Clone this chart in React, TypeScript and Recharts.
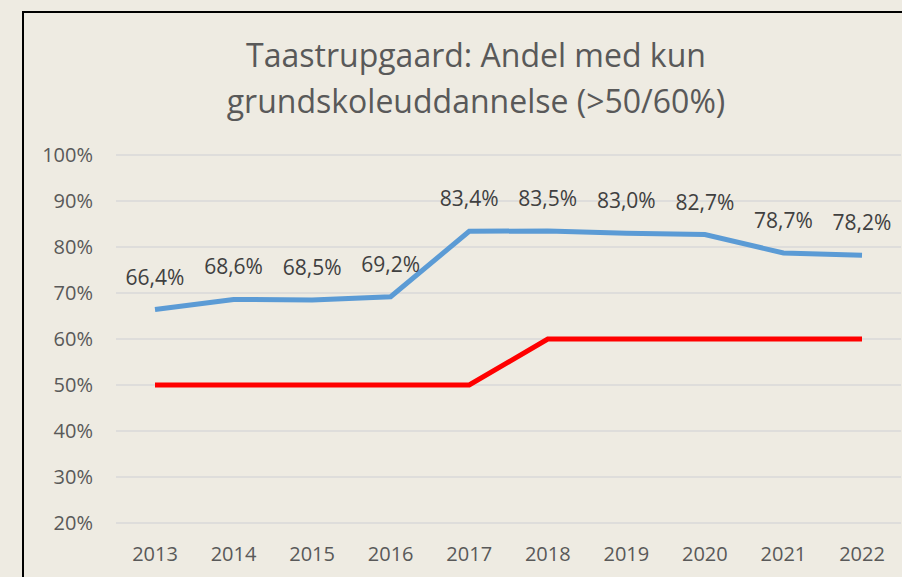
import React from 'react';
import { LineChart, Line, XAxis, YAxis, CartesianGrid, LabelList } from 'recharts';

const years = ['2013', '2014', '2015', '2016', '2017', '2018', '2019', '2020', '2021', '2022'];
const andel = [66.4, 68.6, 68.5, 69.2, 83.4, 83.5, 83.0, 82.7, 78.7, 78.2];
const graense = [50, 50, 50, 50, 50, 60, 60, 60, 60, 60];
const yTicks = [20, 30, 40, 50, 60, 70, 80, 90, 100];

const data = years.map((year, i) => ({
  year,
  andel: andel[i],
  graense: graense[i],
}));

const FONT = '"Open Sans", "Noto Sans", sans-serif';

const fmtPct = (v: any) => `${Number(v).toFixed(1).replace('.', ',')}%`;

const App: React.FC = () => {
  return (
    <div
      style={{
        position: 'absolute',
        top: 0,
        left: 0,
        width: 902,
        height: 577,
        background: '#EEEBE2',
        overflow: 'hidden',
        fontFamily: FONT,
      }}
    >
      <div
        style={{
          position: 'absolute',
          left: 22,
          top: 11,
          width: 1000,
          height: 1000,
          border: '2px solid #000',
        }}
      />
      <div
        style={{
          position: 'absolute',
          left: 0,
          width: 952,
          top: 32,
          textAlign: 'center',
          color: '#595959',
          fontSize: 32,
          lineHeight: '46px',
        }}
      >
        Taastrupgaard: Andel med kun
        <br />
        grundskoleuddannelse (&gt;50/60%)
      </div>
      <div style={{ position: 'absolute', left: 0, top: 0 }}>
        <LineChart
          width={902}
          height={577}
          data={data}
          margin={{ top: 155, right: 1, bottom: 0, left: 0 }}
        >
          <CartesianGrid vertical={false} stroke="#D9D9D9" strokeWidth={1.5} />
          <XAxis
            dataKey="year"
            height={54}
            axisLine={false}
            tickLine={false}
            tickSize={0}
            tickMargin={24}
            padding={{ left: 39, right: 39 }}
            tick={{ fill: '#595959', fontSize: 20, fontFamily: FONT }}
          />
          <YAxis
            width={116}
            domain={[20, 100]}
            ticks={yTicks}
            interval={0}
            axisLine={false}
            tickLine={false}
            tickSize={0}
            tickMargin={23}
            tickFormatter={(v) => `${v}%`}
            tick={{ fill: '#595959', fontSize: 20, fontFamily: FONT }}
          />
          <Line
            type="linear"
            dataKey="graense"
            stroke="#FF0000"
            strokeWidth={5}
            dot={false}
            isAnimationActive={false}
          />
          <Line
            type="linear"
            dataKey="andel"
            stroke="#5B9BD5"
            strokeWidth={5}
            dot={false}
            isAnimationActive={false}
          >
            <LabelList
              dataKey="andel"
              position="top"
              offset={25}
              formatter={fmtPct}
              fill="#404040"
              fontSize={21}
              fontFamily={FONT}
            />
          </Line>
        </LineChart>
      </div>
    </div>
  );
};

export default App;
